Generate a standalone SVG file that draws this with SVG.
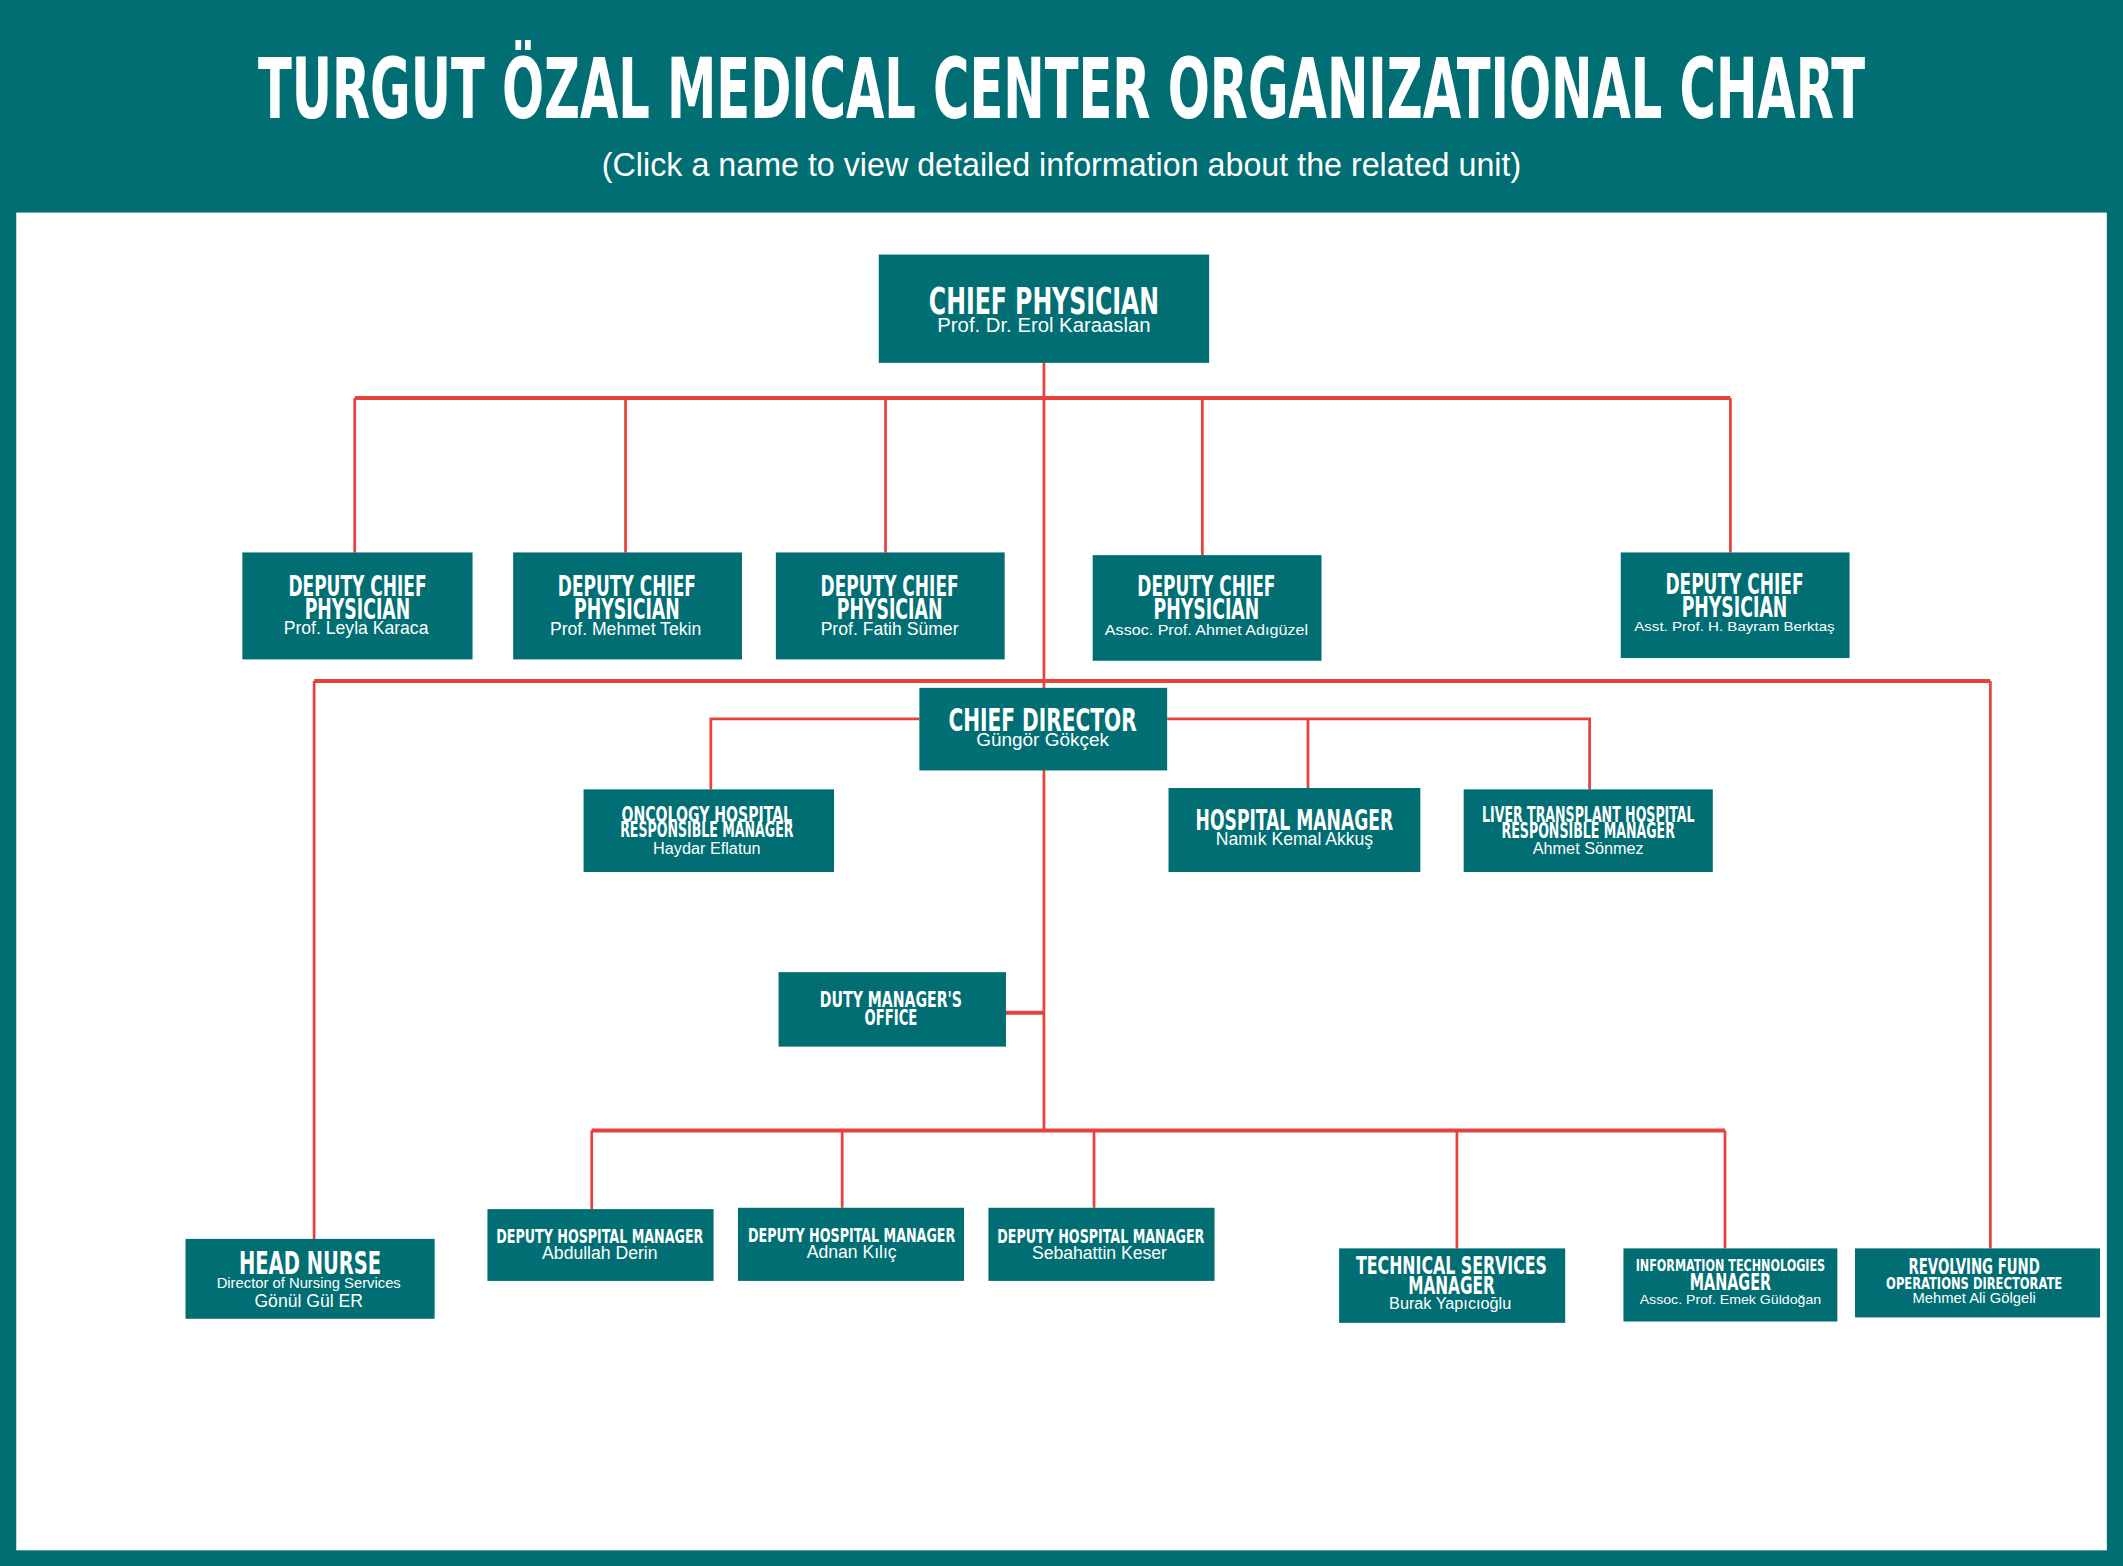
<svg xmlns="http://www.w3.org/2000/svg" width="2123" height="1566" viewBox="0 0 2123 1566">
<style>
.n{fill:#006e73}
.t{font-family:"Liberation Sans Narrow","DejaVu Sans Condensed","Liberation Sans",sans-serif;font-weight:bold;fill:#fff;text-anchor:middle}
.s{font-family:"Liberation Sans Narrow","Liberation Sans",sans-serif;fill:#fff;text-anchor:middle}
.c{stroke:#e8413c;stroke-width:2;fill:none}
.h{stroke-width:3}
</style>
<rect width="2123" height="1566" fill="#006e73"/>
<g transform="scale(1.354)">
<rect x="12" y="157" width="1544" height="988" fill="#fff"/>
<text class="t" x="784" y="87" font-size="62" textLength="1187" lengthAdjust="spacingAndGlyphs">TURGUT ÖZAL MEDICAL CENTER ORGANIZATIONAL CHART</text>
<text x="784" y="130" font-size="24" fill="#fff" text-anchor="middle" font-family="Liberation Sans,sans-serif" textLength="679" lengthAdjust="spacingAndGlyphs">(Click a name to view detailed information about the related unit)</text>
<g id="connectors">
<path class="c" d="M771 268V835"/>
<path class="c h" d="M262 294H1278"/>
<path class="c" d="M262 294V408M462 294V408M654 294V408M888 294V410M1278 294V408"/>
<path class="c h" d="M232 503H1470"/>
<path class="c" d="M232 503V915M1470 503V922"/>
<path class="c" d="M525 583V531H679M862 531H1174V583M966 531V582"/>
<path class="c h" d="M743 748H771"/>
<path class="c h" d="M437 835H1274"/>
<path class="c" d="M437 835V893M622 835V892M808 835V892M1076 835V922M1274 835V922"/>
</g>
<g id="chief-physician"><rect class="n" x="649" y="188" width="244" height="80"/><text class="t" x="771" y="232" font-size="27" textLength="170" lengthAdjust="spacingAndGlyphs">CHIEF PHYSICIAN</text><text class="s" x="771" y="245" font-size="15">Prof. Dr. Erol Karaaslan</text></g>
<g id="dcp1"><rect class="n" x="179" y="408" width="170" height="79"/><text class="t" x="264" y="440" font-size="21" textLength="102" lengthAdjust="spacingAndGlyphs">DEPUTY CHIEF</text><text class="t" x="264" y="457" font-size="21" textLength="78" lengthAdjust="spacingAndGlyphs">PHYSICIAN</text><text class="s" x="263" y="468" font-size="13">Prof. Leyla Karaca</text></g>
<g id="dcp2"><rect class="n" x="379" y="408" width="169" height="79"/><text class="t" x="463" y="440" font-size="21" textLength="102" lengthAdjust="spacingAndGlyphs">DEPUTY CHIEF</text><text class="t" x="463" y="457" font-size="21" textLength="78" lengthAdjust="spacingAndGlyphs">PHYSICIAN</text><text class="s" x="462" y="469" font-size="13">Prof. Mehmet Tekin</text></g>
<g id="dcp3"><rect class="n" x="573" y="408" width="169" height="79"/><text class="t" x="657" y="440" font-size="21" textLength="102" lengthAdjust="spacingAndGlyphs">DEPUTY CHIEF</text><text class="t" x="657" y="457" font-size="21" textLength="78" lengthAdjust="spacingAndGlyphs">PHYSICIAN</text><text class="s" x="657" y="469" font-size="13">Prof. Fatih Sümer</text></g>
<g id="dcp4"><rect class="n" x="807" y="410" width="169" height="78"/><text class="t" x="891" y="440" font-size="21" textLength="102" lengthAdjust="spacingAndGlyphs">DEPUTY CHIEF</text><text class="t" x="891" y="457" font-size="21" textLength="78" lengthAdjust="spacingAndGlyphs">PHYSICIAN</text><text class="s" x="891" y="469" font-size="11" textLength="150" lengthAdjust="spacingAndGlyphs">Assoc. Prof. Ahmet Adıgüzel</text></g>
<g id="dcp5"><rect class="n" x="1197" y="408" width="169" height="78"/><text class="t" x="1281" y="439" font-size="21" textLength="102" lengthAdjust="spacingAndGlyphs">DEPUTY CHIEF</text><text class="t" x="1281" y="456" font-size="21" textLength="78" lengthAdjust="spacingAndGlyphs">PHYSICIAN</text><text class="s" x="1281" y="466" font-size="10" textLength="148" lengthAdjust="spacingAndGlyphs">Asst. Prof. H. Bayram Berktaş</text></g>
<g id="chief-director"><rect class="n" x="679" y="508" width="183" height="61"/><text class="t" x="770" y="540" font-size="23" textLength="139" lengthAdjust="spacingAndGlyphs">CHIEF DIRECTOR</text><text class="s" x="770" y="551" font-size="14">Güngör Gökçek</text></g>
<g id="oncology"><rect class="n" x="431" y="583" width="185" height="61"/><text class="t" x="522" y="607" font-size="15" textLength="126" lengthAdjust="spacingAndGlyphs">ONCOLOGY HOSPITAL</text><text class="t" x="522" y="618" font-size="15" textLength="128" lengthAdjust="spacingAndGlyphs">RESPONSIBLE MANAGER</text><text class="s" x="522" y="631" font-size="12">Haydar Eflatun</text></g>
<g id="hospital-manager"><rect class="n" x="863" y="582" width="186" height="62"/><text class="t" x="956" y="613" font-size="21" textLength="146" lengthAdjust="spacingAndGlyphs">HOSPITAL MANAGER</text><text class="s" x="956" y="624" font-size="13">Namık Kemal Akkuş</text></g>
<g id="liver"><rect class="n" x="1081" y="583" width="184" height="61"/><text class="t" x="1173" y="607" font-size="15" textLength="157" lengthAdjust="spacingAndGlyphs">LIVER TRANSPLANT HOSPITAL</text><text class="t" x="1173" y="619" font-size="15" textLength="128" lengthAdjust="spacingAndGlyphs">RESPONSIBLE MANAGER</text><text class="s" x="1173" y="631" font-size="12">Ahmet Sönmez</text></g>
<g id="duty"><rect class="n" x="575" y="718" width="168" height="55"/><text class="t" x="658" y="744" font-size="16" textLength="105" lengthAdjust="spacingAndGlyphs">DUTY MANAGER'S</text><text class="t" x="658" y="757" font-size="16" textLength="39" lengthAdjust="spacingAndGlyphs">OFFICE</text></g>
<g id="head-nurse"><rect class="n" x="137" y="915" width="184" height="59"/><text class="t" x="229" y="941" font-size="24" textLength="105" lengthAdjust="spacingAndGlyphs">HEAD NURSE</text><text class="s" x="228" y="951" font-size="11" textLength="136" lengthAdjust="spacingAndGlyphs">Director of Nursing Services</text><text class="s" x="228" y="965" font-size="13">Gönül Gül ER</text></g>
<g id="dhm1"><rect class="n" x="360" y="893" width="167" height="53"/><text class="t" x="443" y="918" font-size="14" textLength="153" lengthAdjust="spacingAndGlyphs">DEPUTY HOSPITAL MANAGER</text><text class="s" x="443" y="930" font-size="13">Abdullah Derin</text></g>
<g id="dhm2"><rect class="n" x="545" y="892" width="167" height="54"/><text class="t" x="629" y="917" font-size="14" textLength="153" lengthAdjust="spacingAndGlyphs">DEPUTY HOSPITAL MANAGER</text><text class="s" x="629" y="929" font-size="13">Adnan Kılıç</text></g>
<g id="dhm3"><rect class="n" x="730" y="892" width="167" height="54"/><text class="t" x="813" y="918" font-size="14" textLength="153" lengthAdjust="spacingAndGlyphs">DEPUTY HOSPITAL MANAGER</text><text class="s" x="812" y="930" font-size="13">Sebahattin Keser</text></g>
<g id="technical"><rect class="n" x="989" y="922" width="167" height="55"/><text class="t" x="1072" y="941" font-size="18" textLength="141" lengthAdjust="spacingAndGlyphs">TECHNICAL SERVICES</text><text class="t" x="1072" y="956" font-size="18" textLength="64" lengthAdjust="spacingAndGlyphs">MANAGER</text><text class="s" x="1071" y="967" font-size="12">Burak Yapıcıoğlu</text></g>
<g id="it"><rect class="n" x="1199" y="922" width="158" height="54"/><text class="t" x="1278" y="939" font-size="12" textLength="140" lengthAdjust="spacingAndGlyphs">INFORMATION TECHNOLOGIES</text><text class="t" x="1278" y="953" font-size="17" textLength="60" lengthAdjust="spacingAndGlyphs">MANAGER</text><text class="s" x="1278" y="963" font-size="10" textLength="134" lengthAdjust="spacingAndGlyphs">Assoc. Prof. Emek Güldoğan</text></g>
<g id="revolving"><rect class="n" x="1370" y="922" width="181" height="51"/><text class="t" x="1458" y="941" font-size="16" textLength="97" lengthAdjust="spacingAndGlyphs">REVOLVING FUND</text><text class="t" x="1458" y="952" font-size="12" textLength="130" lengthAdjust="spacingAndGlyphs">OPERATIONS DIRECTORATE</text><text class="s" x="1458" y="962" font-size="11" textLength="91" lengthAdjust="spacingAndGlyphs">Mehmet Ali Gölgeli</text></g>
</g>
</svg>
